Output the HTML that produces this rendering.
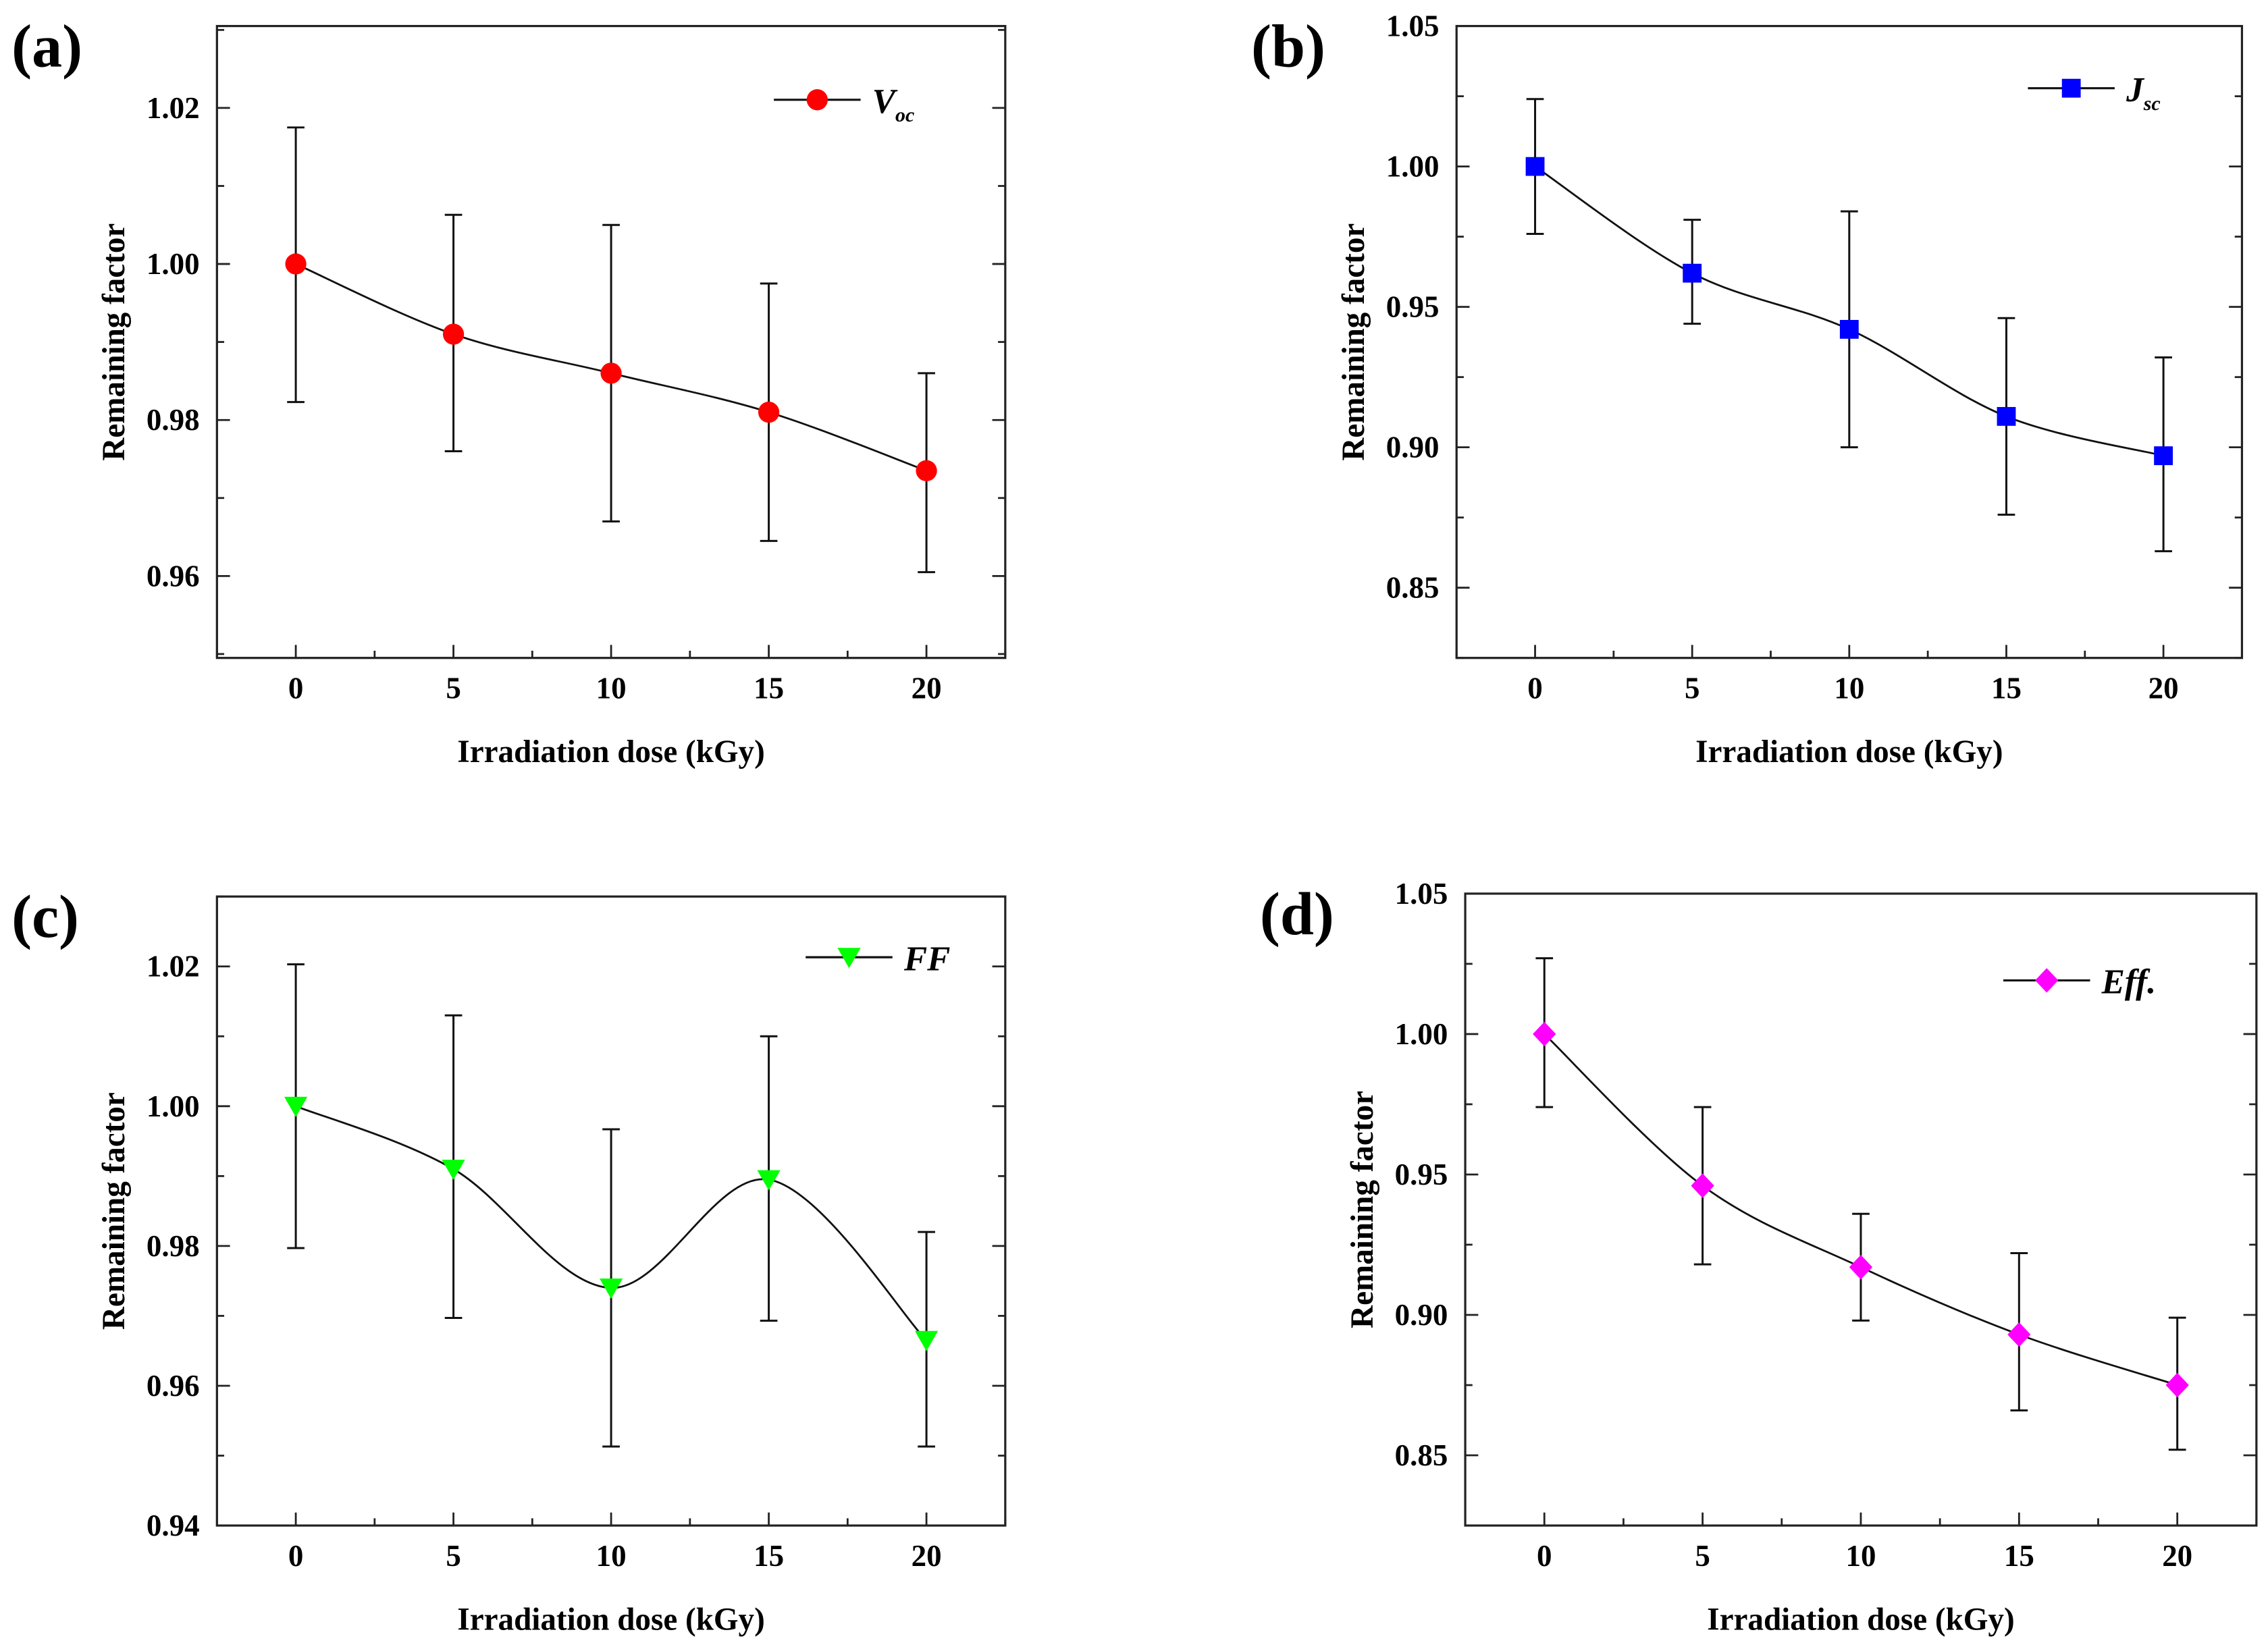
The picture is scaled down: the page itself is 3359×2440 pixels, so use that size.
<!DOCTYPE html>
<html><head><meta charset="utf-8"><style>
html,body{margin:0;padding:0;background:#fff;}
svg{display:block;font-family:"Liberation Serif",serif;}
</style></head><body>
<svg id="chart" width="3359" height="2440" viewBox="0 0 1568 1139" xmlns="http://www.w3.org/2000/svg"></svg>
<script>
const doses = [0, 5, 10, 15, 20];
const xTicks = [0, 5, 10, 15, 20];
const vocValues = [1.000, 0.991, 0.986, 0.981, 0.9735];
const vocUpper = [1.0175, 1.0063, 1.005, 0.9975, 0.986];
const vocLower = [0.9823, 0.976, 0.967, 0.9645, 0.9605];
const vocTicks = ["0.96", "0.98", "1.00", "1.02"];
const jscValues = [1.000, 0.962, 0.942, 0.911, 0.897];
const jscUpper = [1.024, 0.981, 0.984, 0.946, 0.932];
const jscLower = [0.976, 0.944, 0.900, 0.876, 0.863];
const jscTicks = ["0.85", "0.90", "0.95", "1.00", "1.05"];
const ffValues = [1.000, 0.991, 0.974, 0.9895, 0.9665];
const ffUpper = [1.0203, 1.013, 0.9967, 1.010, 0.982];
const ffLower = [0.9797, 0.9697, 0.9513, 0.9693, 0.9513];
const ffTicks = ["0.94", "0.96", "0.98", "1.00", "1.02"];
const effValues = [1.000, 0.946, 0.917, 0.893, 0.875];
const effUpper = [1.027, 0.974, 0.936, 0.922, 0.899];
const effLower = [0.974, 0.918, 0.898, 0.866, 0.852];
const effTicks = ["0.85", "0.90", "0.95", "1.00", "1.05"];

const NS = "http://www.w3.org/2000/svg";
const svg = document.getElementById("chart");
function mk(tag, attrs, parent) {
  const e = document.createElementNS(NS, tag);
  for (const k in attrs) e.setAttribute(k, attrs[k]);
  (parent || svg).appendChild(e);
  return e;
}

const panels = [
  {id:"a", box:[150,18,695,455], y:[0.9495,1.0305], ticks:vocTicks, vals:vocValues, up:vocUpper, lo:vocLower, color:"#ff0000", marker:"circle", legend:[535,69], name:"voc"},
  {id:"b", box:[1007,18,1550,455], y:[0.825,1.05], ticks:jscTicks, vals:jscValues, up:jscUpper, lo:jscLower, color:"#0000ff", marker:"square", legend:[1402,61], name:"jsc"},
  {id:"c", box:[150,620,695,1055], y:[0.94,1.03], ticks:ffTicks, vals:ffValues, up:ffUpper, lo:ffLower, color:"#00ff00", marker:"tri", legend:[557,662], name:"ff"},
  {id:"d", box:[1013,618,1560,1055], y:[0.825,1.05], ticks:effTicks, vals:effValues, up:effUpper, lo:effLower, color:"#ff00ff", marker:"diamond", legend:[1385,678], name:"eff"}
];

function drawMarker(g, type, cx, cy, color) {
  let m;
  if (type === "circle") m = mk("circle", {cx:cx, cy:cy, r:7.3, fill:color}, g);
  else if (type === "square") m = mk("rect", {x:cx-6.5, y:cy-6.5, width:13, height:13, fill:color}, g);
  else if (type === "tri") m = mk("polygon", {points:`${cx-8},${cy-6.5} ${cx+8},${cy-6.5} ${cx},${cy+7.5}`, fill:color}, g);
  else m = mk("polygon", {points:`${cx},${cy-8.5} ${cx+8},${cy} ${cx},${cy+8.5} ${cx-8},${cy}`, fill:color}, g);
  return m;
}

panels.forEach(p => {
  const [x0,y0,x1,y1] = p.box;
  const sx = v => x0 + (v + 2.5) / 25 * (x1 - x0);
  const sy = v => y1 - (v - p.y[0]) / (p.y[1] - p.y[0]) * (y1 - y0);
  const g = mk("g", {});
  
  

  const lab = mk("text", {x:x0-142, y:y0+28, "font-size":42, "font-weight":"bold"}, g);
  lab.textContent = "(" + p.id + ")";
  
  

  const fr = mk("rect", {x:x0, y:y0, width:x1-x0, height:y1-y0, fill:"none", stroke:"#222", "stroke-width":1.5}, g);
  
  

  for (let v = -2.5; v <= 22.5; v += 2.5) {
    const major = xTicks.includes(v);
    const len = major ? 9 : 5;
    mk("line", {x1:sx(v), x2:sx(v), y1:y1, y2:y1-len, stroke:"#222", "stroke-width":1.3}, g);
  }
  xTicks.forEach(v => {
    const t = mk("text", {x:sx(v), y:y1+28, "font-size":21, "font-weight":"bold", "text-anchor":"middle"}, g);
    t.textContent = v;
    
    
  });
  const tickVals = p.ticks.map(Number);
  const step = tickVals[1] - tickVals[0];
  for (let v = tickVals[0] - step; v <= p.y[1] + 1e-9; v += step / 2) {
    if (v < p.y[0] - 1e-9) continue;
    const major = tickVals.some(t => Math.abs(t - v) < 1e-6);
    const len = major ? 9 : 5;
    mk("line", {x1:x0, x2:x0+len, y1:sy(v), y2:sy(v), stroke:"#222", "stroke-width":1.3}, g);
    mk("line", {x1:x1, x2:x1-len, y1:sy(v), y2:sy(v), stroke:"#222", "stroke-width":1.3}, g);
  }
  p.ticks.forEach(s => {
    const t = mk("text", {x:x0-12, y:sy(Number(s))+7, "font-size":21, "font-weight":"bold", "text-anchor":"end"}, g);
    t.textContent = s;
    
    
  });
  const xt = mk("text", {x:(x0+x1)/2, y:y1+72, "font-size":22, "font-weight":"bold", "text-anchor":"middle"}, g);
  xt.textContent = "Irradiation dose (kGy)";
  
  
  const yc = (y0+y1)/2, xc = x0 - 64;
  const yt = mk("text", {x:xc, y:yc, "font-size":22, "font-weight":"bold", "text-anchor":"middle", transform:`rotate(-90 ${xc} ${yc})`}, g);
  yt.textContent = "Remaining factor";
  
  

  const pts = doses.map((d,i) => [sx(d), sy(p.vals[i])]);
  let dstr = `M${pts[0][0]},${pts[0][1]}`;
  for (let i = 0; i < pts.length - 1; i++) {
    const p0 = pts[Math.max(0,i-1)], p1 = pts[i], p2 = pts[i+1], p3 = pts[Math.min(pts.length-1,i+2)];
    const c1 = [p1[0] + (p2[0]-p0[0])/6, p1[1] + (p2[1]-p0[1])/6];
    const c2 = [p2[0] - (p3[0]-p1[0])/6, p2[1] - (p3[1]-p1[1])/6];
    dstr += ` C${c1[0]},${c1[1]} ${c2[0]},${c2[1]} ${p2[0]},${p2[1]}`;
  }
  const line = mk("path", {d:dstr, fill:"none", stroke:"#111", "stroke-width":1.3}, g);
  
  

  doses.forEach((d,i) => {
    const x = sx(d);
    const eb = mk("g", {stroke:"#111", "stroke-width":1.4}, g);
    
    
    mk("line", {x1:x, x2:x, y1:sy(p.up[i]), y2:sy(p.lo[i])}, eb);
    mk("line", {x1:x-6, x2:x+6, y1:sy(p.up[i]), y2:sy(p.up[i])}, eb);
    mk("line", {x1:x-6, x2:x+6, y1:sy(p.lo[i]), y2:sy(p.lo[i])}, eb);
  });
  doses.forEach((d,i) => {
    const m = drawMarker(g, p.marker, sx(d), sy(p.vals[i]), p.color);
    
    
  });

  const [lx, ly] = p.legend;
  const lg = mk("g", {}, g);
  
  
  mk("line", {x1:lx, x2:lx+60, y1:ly, y2:ly, stroke:"#111", "stroke-width":1.5}, lg);
  drawMarker(lg, p.marker, lx+30, ly, p.color);
  const lt = mk("text", {x:lx+68, y:ly+9, "font-size":24, "font-weight":"bold", "font-style":"italic"}, lg);
  if (p.id === "a") { lt.innerHTML = 'V<tspan font-size="14" dy="6">oc</tspan>'; }
  else if (p.id === "b") { lt.innerHTML = 'J<tspan font-size="14" dy="6">sc</tspan>'; }
  else if (p.id === "c") { lt.textContent = "FF"; }
  else { lt.textContent = "Eff."; }
});
</script>
</body></html>
